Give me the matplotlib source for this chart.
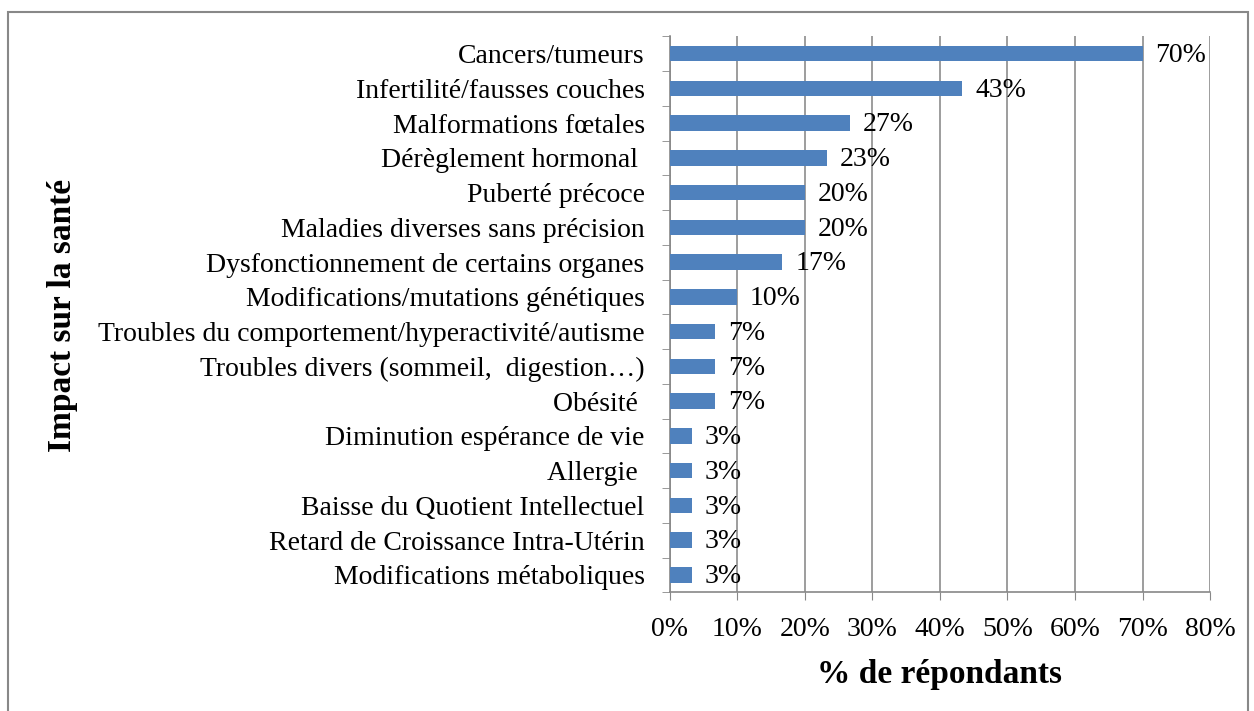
import matplotlib as mpl
mpl.use('Agg')
import matplotlib.pyplot as plt
from matplotlib.patches import Rectangle
from matplotlib.ticker import FuncFormatter, FixedLocator

mpl.rcParams['font.family'] = ['Liberation Serif', 'DejaVu Serif']

categories = [
    "Cancers/tumeurs",
    "Infertilité/fausses couches",
    "Malformations fœtales",
    "Dérèglement hormonal ",
    "Puberté précoce",
    "Maladies diverses sans précision",
    "Dysfonctionnement de certains organes",
    "Modifications/mutations génétiques",
    "Troubles du comportement/hyperactivité/autisme",
    "Troubles divers (sommeil,  digestion…)",
    "Obésité ",
    "Diminution espérance de vie",
    "Allergie ",
    "Baisse du Quotient Intellectuel",
    "Retard de Croissance Intra-Utérin",
    "Modifications métaboliques",
]
values = [70.0, 43.3, 26.7, 23.3, 20.0, 20.0, 16.7, 10.0,
          6.7, 6.7, 6.7, 3.3, 3.3, 3.3, 3.3, 3.3]
labels = ["70%", "43%", "27%", "23%", "20%", "20%", "17%", "10%",
          "7%", "7%", "7%", "3%", "3%", "3%", "3%", "3%"]

fig = plt.figure(figsize=(12.54, 7.11), dpi=100)
ax = fig.add_axes([0.534, 0.167, 0.431, 0.782])

ys = list(range(len(categories)))
ax.barh(ys, values, height=0.45, color='#4F81BD', zorder=3)
for y, v, lab in zip(ys, values, labels):
    ax.text(v + 1.9, y + 0.05, lab, va='center', ha='left', fontsize=20, zorder=4)

ax.set_ylim(len(categories) - 0.5, -0.5)
ax.set_xlim(0, 80)
ax.set_yticks(ys)
ax.set_yticklabels(categories, fontsize=20)
ax.yaxis.set_minor_locator(FixedLocator([y + 0.5 for y in range(-1, len(categories))]))
ax.tick_params(axis='y', which='major', length=0, pad=18)
ax.tick_params(axis='y', which='minor', length=6, color='#888888')
ax.set_xticks(range(0, 81, 10))
ax.xaxis.set_major_formatter(FuncFormatter(lambda x, p: f"{int(x)}%"))
ax.tick_params(axis='x', length=6, color='#888888', labelsize=20, pad=12)
ax.grid(axis='x', color='#8c8c8c', linewidth=1.2, zorder=0)
for s in ['top', 'right']:
    ax.spines[s].set_visible(False)
for s in ['left', 'bottom']:
    ax.spines[s].set_color('#888888')
    ax.spines[s].set_linewidth(1.2)

ax.set_xlabel("% de répondants", fontsize=24, fontweight='bold', labelpad=12)
fig.text(0.05, 0.557, "Impact sur la santé", rotation=90, fontsize=24,
         fontweight='bold', ha='center', va='center')

fig.patches.append(Rectangle((0.0065, -0.01), 0.989, 0.993, transform=fig.transFigure,
                             fill=False, edgecolor='#888888', linewidth=1.5))

plt.savefig("out.png", dpi=100)
